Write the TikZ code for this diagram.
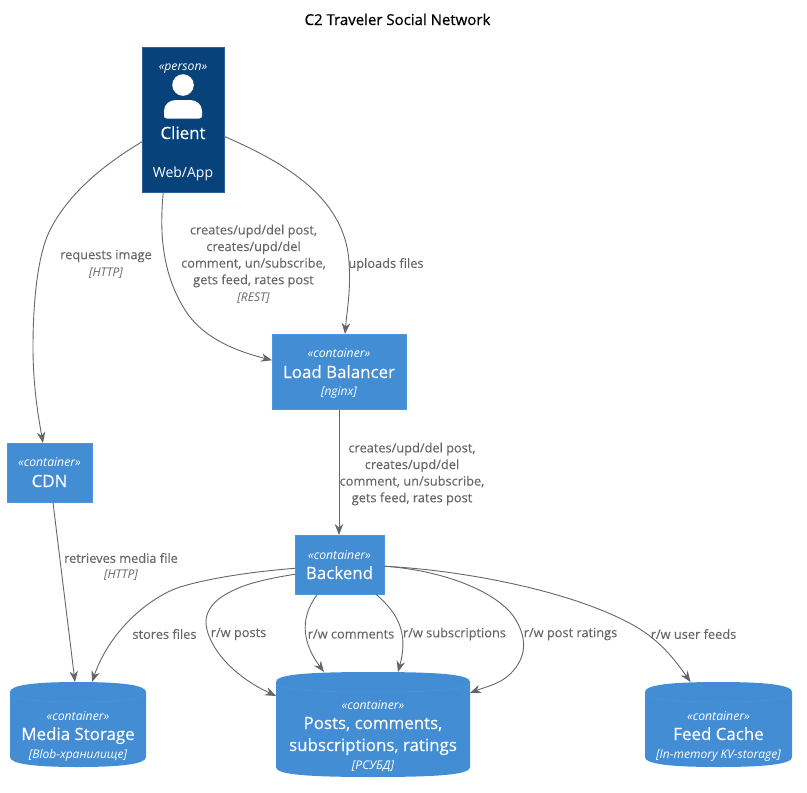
\documentclass[tikz,border=0pt]{standalone}
\usepackage{fontspec}
\setmainfont{Open Sans}
\newfontfamily\medf[FakeBold=0.25]{Open Sans}
\newfontfamily\titf[FakeBold=0.6]{Open Sans}
\newfontfamily\lblf[FakeBold=0.12]{Open Sans}
\usetikzlibrary{arrows.meta}
\definecolor{persc}{HTML}{08427B}
\definecolor{contc}{HTML}{438DD5}
\definecolor{persb}{HTML}{2A5F94}
\definecolor{contb}{HTML}{4F97DC}
\definecolor{linec}{HTML}{666666}
\newcommand{\dbcyl}[4]{% x0 y0 x1 y1
  \fill[contc] (#1,#2+10) .. controls (#1,#2+3) and (#1+25,#2) .. ({(#1+#3)/2},#2) .. controls (#3-25,#2) and (#3,#2+3) .. (#3,#2+10) -- (#3,#4-10) .. controls (#3,#4-3) and (#3-25,#4) .. ({(#1+#3)/2},#4) .. controls (#1+25,#4) and (#1,#4-3) .. (#1,#4-10) -- cycle;
  \draw[contb!80!contc,line width=.5pt] (#1,#2+10) .. controls (#1,#2+17) and (#1+25,#2+20) .. ({(#1+#3)/2},#2+20) .. controls (#3-25,#2+20) and (#3,#2+17) .. (#3,#2+10);
}
\tikzset{
  box/.style={fill=contc,draw=contb,line width=.5pt,text=white,align=center,inner sep=0pt,anchor=north west},
  person/.style={box,fill=persc,draw=persb},
  stext/.style={text=white,inner sep=0pt,anchor=base,font=\fontsize{12.2}{14}\selectfont\itshape},
  ntext/.style={text=white,inner sep=0pt,anchor=base,font=\fontsize{16.9}{20}\medf},
  ttext/.style={text=white,inner sep=0pt,anchor=base,font=\fontsize{12}{14}\selectfont\itshape},
  rel/.style={linec,line width=.9pt,-{Stealth[length=11pt,width=8.5pt]}},
  lbl/.style={text=linec,align=center,inner sep=0pt,font=\fontsize{12.8}{16.6}\lblf},
  techl/.style={text=linec,align=center,inner sep=0pt,anchor=base,font=\fontsize{12}{14}\selectfont\itshape},
  empty/.style={inner sep=0pt,outer sep=0pt}
}
\begin{document}
\begin{tikzpicture}[x=1pt,y=-1pt]
\useasboundingbox (0,0) rectangle (807,793);
\node[inner sep=0pt,anchor=base,font=\fontsize{15}{18}\titf] (title) at (397.5,25) {C2 Traveler Social Network};

% boxes
\node[person,minimum width=81.5pt,minimum height=145pt] (client) at (142,47) {};
\fill[white] (183,85) circle (10.8);
\fill[white] (167,118.5) .. controls (165,118.5) and (164,117.5) .. (164,115.5) -- (164,111) .. controls (164,104) and (170,100) .. (176,100) -- (190,100) .. controls (196,100) and (202,104) .. (202,111) -- (202,115.5) .. controls (202,117.5) and (201,118.5) .. (199,118.5) -- cycle;
\node[stext] (clients) at (183,70) {«person»};
\node[ntext] (clientn) at (183,139) {Client};
\node[text=white,inner sep=0pt,anchor=base,font=\fontsize{14}{16}\selectfont] (clientt) at (183,177) {Web/App};

\node[box,minimum width=133.5pt,minimum height=75pt] (lb) at (272,334) {};
\node[stext] (lbs) at (339,357) {«container»};
\node[ntext] (lbn) at (339,378) {Load Balancer};
\node[ttext] (lbt) at (339,395) {[nginx]};
\node[box,minimum width=84.5pt,minimum height=59pt] (cdn) at (7,443) {};
\node[stext] (cdns) at (49.5,466) {«container»};
\node[ntext] (cdnn) at (49.5,487) {CDN};
\node[box,minimum width=89pt,minimum height=59pt] (backend) at (295,535) {};
\node[stext] (backs) at (339.5,559) {«container»};
\node[ntext] (backn) at (339.5,579) {Backend};

% databases
\dbcyl{10}{682}{146}{767}
\node[empty,minimum width=136pt,minimum height=85pt] (media) at (78,724.5) {};
\node[stext] (medias) at (78,720) {«container»};
\node[ntext] (median) at (78,740) {Media Storage};
\node[ttext] (mediat) at (78,758) {[Blob-хранилище]};
\dbcyl{276}{672}{470}{777}
\node[empty,minimum width=194pt,minimum height=105pt] (posts) at (373,724.5) {};
\node[stext] (postss) at (373,709) {«container»};
\node[ntext] (postsn) at (373,729) {Posts, comments,};
\node[ntext] (postsm) at (373,751) {subscriptions, ratings};
\node[ttext] (postst) at (373,769) {[РСУБД]};
\dbcyl{645}{682}{792}{767}
\node[empty,minimum width=147pt,minimum height=85pt] (feed) at (718.5,724.5) {};
\node[stext] (feeds) at (718.5,720) {«container»};
\node[ntext] (feedn) at (718.5,740) {Feed Cache};
\node[ttext] (feedt) at (718.5,758) {[In-memory KV-storage]};

% connectors
\draw[rel] ([yshift=-22]client.west) .. controls (100,167) and (68,195) .. (50,230) .. controls (37,256) and (33,305) .. (33,347) .. controls (33,385) and (38,415) .. ([xshift=-6.5]cdn.north);
\draw[rel] ([xshift=-19.7]client.south) .. controls (159,235) and (163,275) .. (185,310) .. controls (204,340) and (240,352) .. ([yshift=11.5]lb.west);
\draw[rel] ([yshift=-16.5]client.east) .. controls +(55,24) and (345,195) .. (349,262) .. controls (351,290) and (347,310) .. ([xshift=6]lb.north);
\draw[rel] (lb.south) -- (lb.south |- backend.north);
\draw[rel] ([xshift=3.5]cdn.south) -- ([xshift=-3]media.north);
\draw[rel] ([yshift=-3.5]backend.west) .. controls (250,572) and (210,578) .. (180,587) .. controls (150,597) and (110,630) .. ([xshift=14]media.north);
\draw[rel] ([yshift=-9.5]backend.west) .. controls (265,579) and (245,584) .. (230,592) .. controls (212,601) and (206,612) .. (206,622) .. controls (206,640) and (225,672) .. ([yshift=28.5]posts.west);
\draw[rel] ([xshift=-22.5]backend.south) .. controls (298,620) and (304,645) .. ([xshift=-49]posts.north);
\draw[rel] ([xshift=36.5]backend.south) .. controls (400,615) and (408,635) .. ([xshift=25]posts.north);
\draw[rel] ([yshift=-1.5]backend.east) .. controls (440,570) and (495,590) .. (514,617) .. controls (527,637) and (527,655) .. (513,671) .. controls (502,684) and (485,687) .. ([yshift=31.5]posts.east);
\draw[rel] ([yshift=-1.5]backend.east) .. controls (460,570) and (570,590) .. (633,625) .. controls (660,640) and (675,660) .. ([xshift=-28]feed.north);

% labels
\node[lbl] (l1) at (106,256) {requests image};
\node[techl] (l1t) at (106,276) {[HTTP]};
\node[lbl] (l2) at (253.5,256) {creates/upd/del post,\\creates/upd/del\\comment, un/subscribe,\\gets feed, rates post};
\node[techl] (l2t) at (253.5,301) {[REST]};
\node[lbl] (l3) at (386,264.5) {uploads files};
\node[lbl] (l4) at (412,474) {creates/upd/del post,\\creates/upd/del\\comment, un/subscribe,\\gets feed, rates post};
\node[lbl] (l5) at (121,558) {retrieves media file};
\node[techl] (l5t) at (121,578) {[HTTP]};
\node[lbl] (l6) at (164.5,634) {stores files};
\node[lbl] (l7) at (238.5,634) {r/w posts};
\node[lbl] (l8) at (351,634) {r/w comments};
\node[lbl] (l9) at (454.5,634) {r/w subscriptions};
\node[lbl] (l10) at (570.5,634) {r/w post ratings};
\node[lbl] (l11) at (693.5,634) {r/w user feeds};
\end{tikzpicture}
\end{document}
